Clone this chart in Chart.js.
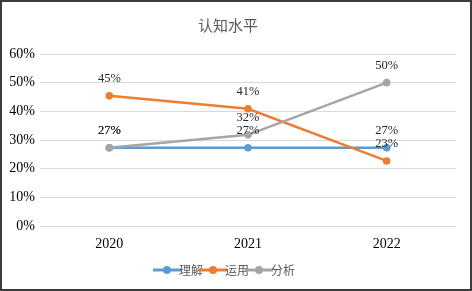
<!DOCTYPE html>
<html>
<head>
<meta charset="utf-8">
<script src="https://cdn.jsdelivr.net/npm/chart.js@4.4.0/dist/chart.umd.min.js"></script>
<style>
html,body{margin:0;padding:0;background:#fff;}
#wrap{position:relative;width:472px;height:291px;}
#frame{position:absolute;left:0;top:0;width:468px;height:287px;border:2px solid #3c3c3c;pointer-events:none;}
canvas{position:absolute;left:0;top:0;}
</style>
</head>
<body>
<div id="wrap"><canvas id="c" width="472" height="291"></canvas><div id="frame"></div></div>
<script>
const categories = ['2020', '2021', '2022'];
const seriesNames = ['理解', '运用', '分析'];
const understand = [27.3, 27.3, 27.3];
const apply = [45.4, 40.9, 22.7];
const analyze = [27.3, 31.8, 50.0];
const yTicks = [0, 10, 20, 30, 40, 50, 60];
const colors = ['#5B9BD5', '#ED7D31', '#A5A5A5'];

const serif = "'Liberation Serif', 'Noto Sans CJK SC', serif";
const cjk = "'Noto Sans CJK SC', 'Liberation Serif', sans-serif";

function legendIcon(color) {
  const cv = document.createElement('canvas');
  cv.width = 28; cv.height = 10;
  const x = cv.getContext('2d');
  x.strokeStyle = color; x.lineWidth = 3;
  x.beginPath(); x.moveTo(0, 5); x.lineTo(28, 5); x.stroke();
  x.fillStyle = color;
  x.beginPath(); x.arc(14, 5, 4, 0, Math.PI * 2); x.fill();
  return cv;
}

const dataLabels = {
  id: 'dataLabels',
  afterDatasetsDraw(chart) {
    const ctx = chart.ctx;
    ctx.save();
    ctx.font = '12.5px ' + serif;
    ctx.fillStyle = '#262626';
    ctx.textAlign = 'center';
    ctx.textBaseline = 'middle';
    chart.data.datasets.forEach((ds, i) => {
      const meta = chart.getDatasetMeta(i);
      meta.data.forEach((pt, j) => {
        ctx.fillText(Math.round(ds.data[j]) + '%', pt.x, pt.y - 17);
      });
    });
    ctx.restore();
  }
};

const seriesData = [understand, apply, analyze];
new Chart(document.getElementById('c'), {
  type: 'line',
  data: {
    labels: categories,
    datasets: seriesNames.map((n, i) => ({
      label: n,
      data: seriesData[i],
      borderColor: colors[i],
      backgroundColor: colors[i],
      borderWidth: 2.5,
      pointRadius: 3.8,
      pointHoverRadius: 3.8,
      pointBorderWidth: 0,
      fill: false,
      tension: 0,
      order: 3 - i
    }))
  },
  options: {
    responsive: false,
    animation: false,
    layout: { padding: { left: 0, right: 16, top: 0, bottom: 5 } },
    plugins: {
      title: {
        display: true,
        text: '认知水平',
        color: '#595959',
        font: { family: cjk, size: 15, weight: 'normal' },
        padding: { top: 16, bottom: 20 }
      },
      legend: {
        position: 'bottom',
        labels: {
          usePointStyle: true,
          boxWidth: 28,
          boxHeight: 10,
          padding: 4,
          color: '#595959',
          font: { family: cjk, size: 12 },
          generateLabels(chart) {
            return chart.data.datasets.map((ds, i) => ({
              text: ds.label,
              fillStyle: colors[i],
              strokeStyle: colors[i],
              pointStyle: legendIcon(colors[i]),
              fontColor: '#595959',
              datasetIndex: i,
              lineWidth: 0
            }));
          }
        }
      },
      tooltip: { enabled: false }
    },
    scales: {
      x: {
        offset: true,
        grid: { display: false },
        border: { display: false },
        afterFit(scale) { scale.height = 34; },
        ticks: { color: '#000', font: { family: serif, size: 14 }, padding: 2 }
      },
      y: {
        min: 0, max: 60,
        afterBuildTicks(scale) { scale.ticks = yTicks.map(v => ({ value: v })); },
        afterFit(scale) { scale.width = 40; },
        grid: { color: '#d9d9d9', lineWidth: 1, drawTicks: false },
        border: { display: false },
        ticks: { color: '#000', font: { family: serif, size: 14 }, padding: 5,
                 callback: v => v + '%' }
      }
    }
  },
  plugins: [dataLabels]
});
</script>
</body>
</html>
